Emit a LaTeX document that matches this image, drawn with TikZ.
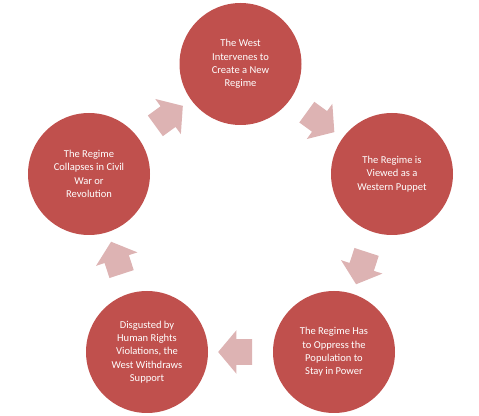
\documentclass[tikz,border=0pt]{standalone}
\usepackage{fontspec}
\setmainfont{Carlito}
\usepackage{xcolor}
\usepackage{tikz}
\usetikzlibrary{calc, shapes.arrows}
\definecolor{regimered}{HTML}{C0504D}
\definecolor{cyclepink}{HTML}{DDB3B3}

\begin{document}
\begin{tikzpicture}[
    x=0.75pt, y=-0.75pt,
    stage/.style={circle, fill=regimered, minimum size=91.5pt, inner sep=0pt,
                  text=white, align=center,
                  font=\fontsize{7.9pt}{10pt}\selectfont},
    cyc/.style={single arrow, fill=cyclepink, minimum height=25.5pt,
                single arrow head extend=6.75pt,
                single arrow tip angle=100, inner sep=0pt},
]
\useasboundingbox (0,0) rectangle (479,416);

% Five stages of the cycle
\node[stage] (west)  at (240.5, 64)  {The West\\Intervenes to\\Create a New\\Regime};
\node[stage] (puppet) at (392, 174)  {The Regime is\\Viewed as a\\Western Puppet};
\node[stage] (oppress) at (334, 352) {The Regime Has\\to Oppress the\\Population to\\Stay in Power};
\node[stage] (withdraw) at (147, 352) {Disgusted by\\Human Rights\\Violations, the\\West Withdraws\\Support};
\node[stage] (collapse) at (89, 174) {The Regime\\Collapses in Civil\\War or\\Revolution};

% Block arrows between stages (clockwise)
\node[cyc, rotate=-36]  at ($(west)!0.5!(puppet)$) {\rule{0pt}{18.75pt}};
\node[cyc, rotate=-108] at ($(puppet)!0.5!(oppress)$) {\rule{0pt}{18.75pt}};
\node[cyc, rotate=180]  at ($(oppress)!0.5!(withdraw)$) {\rule{0pt}{18.75pt}};
\node[cyc, rotate=108]  at ($(withdraw)!0.5!(collapse)$) {\rule{0pt}{18.75pt}};
\node[cyc, rotate=36]   at ($(collapse)!0.5!(west)$) {\rule{0pt}{18.75pt}};

\end{tikzpicture}
\end{document}
